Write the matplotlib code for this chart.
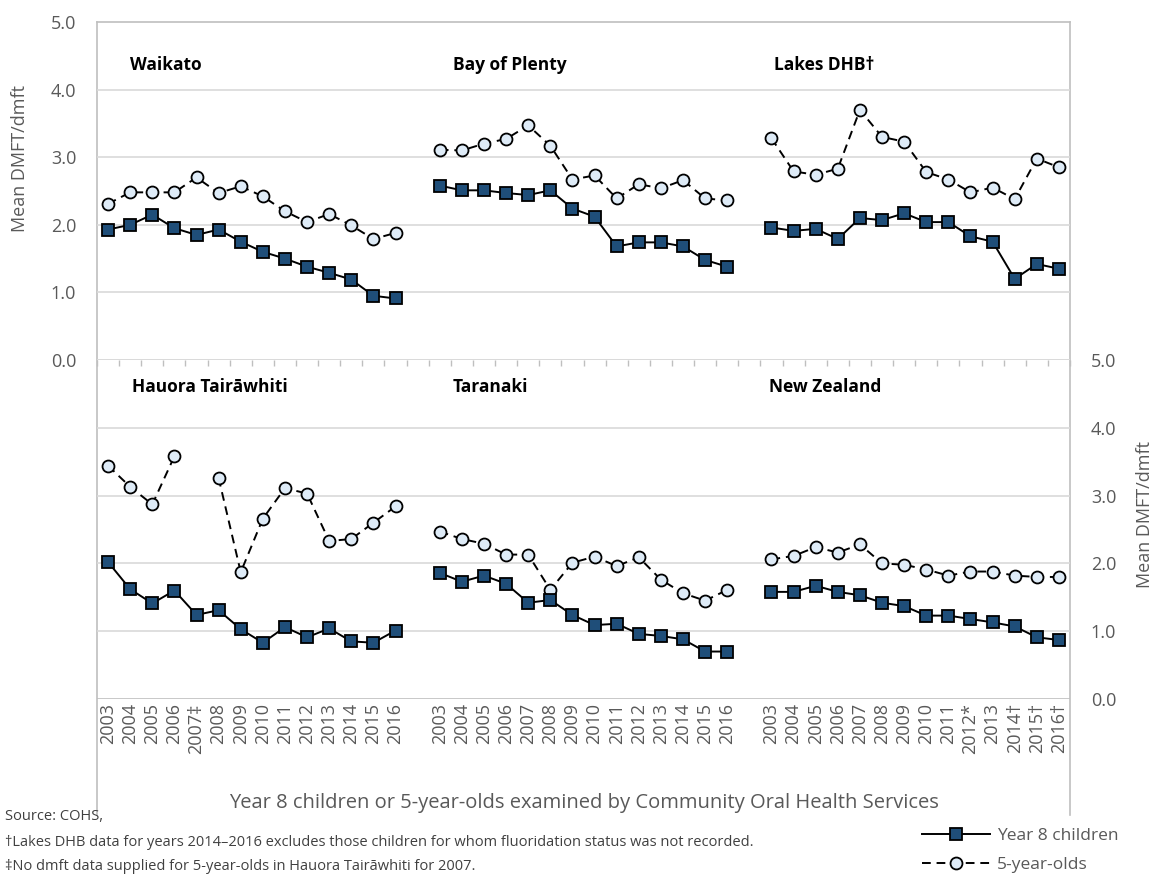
import numpy as np
import matplotlib
matplotlib.use("Agg")
import matplotlib.pyplot as plt
from matplotlib.lines import Line2D

plt.rcParams['font.family'] = ['Open Sans', 'DejaVu Sans']

nan = np.nan
years = ['2003', '2004', '2005', '2006', '2007', '2008', '2009', '2010',
         '2011', '2012', '2013', '2014', '2015', '2016']
labels_g1 = ['2003', '2004', '2005', '2006', '2007‡', '2008', '2009', '2010',
             '2011', '2012', '2013', '2014', '2015', '2016']
labels_g2 = years
labels_g3 = ['2003', '2004', '2005', '2006', '2007', '2008', '2009', '2010',
             '2011', '2012*', '2013', '2014†', '2015†', '2016†']

top_titles = ['Waikato', 'Bay of Plenty', 'Lakes DHB†']
bottom_titles = ['Hauora Tairāwhiti', 'Taranaki', 'New Zealand']

waikato_y8 = [1.93, 2.00, 2.15, 1.95, 1.85, 1.93, 1.75, 1.60, 1.50, 1.38, 1.29, 1.19, 0.95, 0.91]
waikato_5yo = [2.31, 2.48, 2.48, 2.48, 2.70, 2.47, 2.57, 2.42, 2.20, 2.04, 2.16, 1.99, 1.79, 1.88]
bop_y8 = [2.58, 2.51, 2.51, 2.47, 2.44, 2.51, 2.24, 2.12, 1.68, 1.74, 1.74, 1.68, 1.48, 1.38]
bop_5yo = [3.11, 3.10, 3.20, 3.27, 3.47, 3.17, 2.67, 2.73, 2.39, 2.60, 2.54, 2.66, 2.39, 2.36]
lakes_y8 = [1.96, 1.91, 1.94, 1.79, 2.10, 2.07, 2.17, 2.04, 2.04, 1.83, 1.75, 1.20, 1.42, 1.35]
lakes_5yo = [3.28, 2.79, 2.74, 2.83, 3.70, 3.30, 3.23, 2.78, 2.67, 2.48, 2.55, 2.38, 2.98, 2.85]

hauora_y8 = [2.02, 1.62, 1.41, 1.60, 1.24, 1.31, 1.03, 0.83, 1.06, 0.91, 1.04, 0.85, 0.83, 1.01]
hauora_5yo = [3.44, 3.13, 2.87, 3.58, nan, 3.26, 1.87, 2.66, 3.11, 3.03, 2.33, 2.36, 2.60, 2.84]
taranaki_y8 = [1.86, 1.73, 1.82, 1.70, 1.42, 1.46, 1.24, 1.09, 1.11, 0.96, 0.93, 0.88, 0.70, 0.70]
taranaki_5yo = [2.47, 2.36, 2.29, 2.13, 2.13, 1.61, 2.01, 2.10, 1.96, 2.09, 1.76, 1.56, 1.45, 1.61]
nz_y8 = [1.58, 1.58, 1.67, 1.58, 1.53, 1.42, 1.37, 1.23, 1.23, 1.18, 1.13, 1.07, 0.91, 0.87]
nz_5yo = [2.06, 2.11, 2.24, 2.16, 2.28, 2.00, 1.98, 1.91, 1.82, 1.88, 1.88, 1.82, 1.80, 1.80]

W, H = 1154, 876
fig = plt.figure(figsize=(W / 100, H / 100), dpi=100)

GREY_TXT = '#595959'
GRID = '#d9d9d9'
FRAME = '#bfbfbf'
DARK = '#1f4e79'
LIGHT = '#deebf7'

x0, x1 = 97, 1070
yt0, ymid, yb1 = 22, 360, 699


def fx(px):
    return px / W


def fy(py):
    return 1 - py / H


# outer frame
frame = fig.add_axes([fx(x0), fy(815), fx(x1) - fx(x0), fy(yt0) - fy(815)], zorder=0)
frame.set_xticks([]); frame.set_yticks([])
frame.patch.set_alpha(0)
for s in ['left', 'right', 'top']:
    frame.spines[s].set_color(FRAME)
    frame.spines[s].set_linewidth(1.2)
frame.spines['bottom'].set_visible(False)

ax_top = fig.add_axes([fx(x0), fy(ymid), fx(x1) - fx(x0), fy(yt0) - fy(ymid)], zorder=2)
ax_bot = fig.add_axes([fx(x0), fy(yb1), fx(x1) - fx(x0), fy(ymid) - fy(yb1)], zorder=2)

n = len(years)
gap = 1
nslots = 3 * n + 2 * gap
group_x = [np.arange(n) + g * (n + gap) for g in range(3)]

line_kw_y8 = dict(color='black', lw=1.4, marker='s', ms=8.2, mfc=DARK, mec='black', mew=1.3)
line_kw_5 = dict(color='black', lw=1.4, ls=(0, (4.5, 3)), marker='o', ms=8.6, mfc=LIGHT,
                 mec='black', mew=1.3)

top_data = [(waikato_y8, waikato_5yo), (bop_y8, bop_5yo), (lakes_y8, lakes_5yo)]
bot_data = [(hauora_y8, hauora_5yo), (taranaki_y8, taranaki_5yo), (nz_y8, nz_5yo)]

for ax, data in [(ax_top, top_data), (ax_bot, bot_data)]:
    ax.patch.set_alpha(0)
    ax.set_xlim(-0.5, nslots - 0.5)
    ax.set_ylim(0, 5)
    for g, (y8, y5) in enumerate(data):
        ax.plot(group_x[g], y5, zorder=3, **line_kw_5)
        ax.plot(group_x[g], y8, zorder=4, **line_kw_y8)
    ax.set_yticks([0, 1, 2, 3, 4, 5])
    ax.set_yticklabels(['0.0', '1.0', '2.0', '3.0', '4.0', '5.0'])
    for s in ax.spines.values():
        s.set_visible(False)
    ax.tick_params(axis='y', length=0, labelsize=13, labelcolor=GREY_TXT)

# gridlines
for v in [1, 2, 3, 4]:
    ax_top.axhline(v, color=GRID, lw=1.2, zorder=1)
    ax_bot.axhline(v, color=GRID, lw=1.2, zorder=1)
ax_top.axhline(0, color=GRID, lw=1.4, zorder=1)
ax_bot.axhline(0, color=FRAME, lw=1.2, zorder=1)

# top axis: left labels, boundary tick marks
ax_top.yaxis.set_ticks_position('left')
ax_top.tick_params(axis='y', pad=15)
ax_top.set_xticks(np.arange(nslots + 1) - 0.5)
ax_top.tick_params(axis='x', direction='out', length=4, width=1, color=FRAME, labelbottom=False)

# bottom axis: right labels, category labels
ax_bot.yaxis.set_ticks_position('right')
ax_bot.tick_params(axis='y', pad=15, labelright=True, labelleft=False)
all_labels = labels_g1 + [''] * gap + labels_g2 + [''] * gap + labels_g3
ax_bot.set_xticks(np.arange(nslots))
ax_bot.set_xticklabels(all_labels, rotation=90)
ax_bot.tick_params(axis='x', length=0, pad=3, labelsize=13, labelcolor=GREY_TXT)

# panel titles
title_x_top = [1.0, 15.6, 30.1]
title_x_bot = [1.1, 15.6, 29.9]
for t, xx in zip(top_titles, title_x_top):
    ax_top.text(xx, 4.37, t, fontsize=12.5, fontweight='bold', color='black', ha='left', va='center')
for t, xx in zip(bottom_titles, title_x_bot):
    ax_bot.text(xx, 4.6, t, fontsize=12.5, fontweight='bold', color='black', ha='left', va='center')

# axis labels
fig.text(fx(20), fy(158), 'Mean DMFT/dmft', rotation=90, fontsize=13, color=GREY_TXT,
         ha='center', va='center')
fig.text(fx(1145), fy(515), 'Mean DMFT/dmft', rotation=90, fontsize=13, color=GREY_TXT,
         ha='center', va='center')
fig.text(fx(584), fy(803), 'Year 8 children or 5-year-olds examined by Community Oral Health Services',
         fontsize=14.5, color=GREY_TXT, ha='center', va='center')

# footnotes
fig.text(fx(5), fy(817), 'Source: COHS,', fontsize=10.5, color='#404040', ha='left', va='center')
fig.text(fx(5), fy(843), '†Lakes DHB data for years 2014–2016 excludes those children for whom fluoridation status was not recorded.',
         fontsize=10.5, color='#404040', ha='left', va='center')
fig.text(fx(5), fy(866), '‡No dmft data supplied for 5-year-olds in Hauora Tairāwhiti for 2007.',
         fontsize=10.5, color='#404040', ha='left', va='center')

# legend
handles = [Line2D([], [], **line_kw_y8), Line2D([], [], **line_kw_5)]
leg = fig.legend(handles, ['Year 8 children', '5-year-olds'], loc='upper left',
                 bbox_to_anchor=(fx(922), fy(828)), frameon=False, borderpad=0,
                 borderaxespad=0, handlelength=3.9, handletextpad=0.4, labelspacing=0.75,
                 fontsize=12.5, numpoints=1)
for t in leg.get_texts():
    t.set_color(GREY_TXT)

fig.savefig('out.png', dpi=100)
